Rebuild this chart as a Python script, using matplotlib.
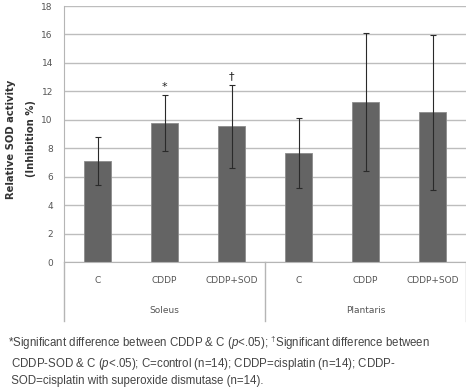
import numpy as np
import matplotlib
matplotlib.use("Agg")
import matplotlib.pyplot as plt

categories = ["C", "CDDP", "CDDP+SOD", "C", "CDDP", "CDDP+SOD"]
groups = ["Soleus", "Plantaris"]
means = [7.12, 9.78, 9.56, 7.68, 11.25, 10.52]
errors = [1.68, 1.95, 2.92, 2.45, 4.82, 5.45]
markers = ["", "*", "\u2020", "", "", ""]
yticks = np.arange(0, 19, 2)

footnote = (
    "*Significant difference between CDDP & C ($p$<.05); $^{\\dagger}$Significant difference between\n"
    " CDDP-SOD & C ($p$<.05); C=control (n=14); CDDP=cisplatin (n=14); CDDP-\n"
    " SOD=cisplatin with superoxide dismutase (n=14)."
)

plt.rcParams["mathtext.fontset"] = "custom"
plt.rcParams["mathtext.rm"] = "Liberation Sans"
plt.rcParams["mathtext.it"] = "Liberation Sans:italic"

fig = plt.figure(figsize=(4.66, 3.88), dpi=100)
ax = fig.add_axes([64 / 466, 126 / 388, 402 / 466, 256 / 388])

x = np.arange(len(categories))
ax.bar(x, means, width=0.4, color="#646464", edgecolor="#8c8c8c", linewidth=0.6, zorder=2)
ax.errorbar(x, means, yerr=errors, fmt="none", ecolor="#2a2a2a", elinewidth=0.8,
            capsize=2, capthick=0.8, zorder=3)

for xi, m, e, mk in zip(x, means, errors, markers):
    if mk:
        ax.text(xi, m + e + 0.2, mk, ha="center", va="bottom", fontsize=8, color="#222222")

ax.set_xlim(-0.5, len(categories) - 0.5)
ax.set_ylim(0, 18)
ax.set_yticks(yticks)
ax.set_yticklabels([str(t) for t in yticks], fontsize=6.5, color="#555555")
ax.tick_params(axis="y", length=0, pad=8)
ax.set_xticks([])
ax.grid(axis="y", color="#bdbdbd", linewidth=1, zorder=0)
ax.set_axisbelow(True)
for s in ["top", "right"]:
    ax.spines[s].set_visible(False)
ax.spines["left"].set_color("#b5b5b5")
ax.spines["bottom"].set_color("#b5b5b5")

# y label, two lines drawn separately to get the wide spacing
ylab_y = 1 - 139 / 388
fig.text(11 / 466, ylab_y, "Relative SOD activity", rotation=90, ha="center", va="center",
         fontsize=7.2, fontweight="bold", color="#333333")
fig.text(31 / 466, ylab_y, "(Inhibition %)", rotation=90, ha="center", va="center",
         fontsize=7.2, fontweight="bold", color="#333333")

trans = ax.get_xaxis_transform()
for xi, c in zip(x, categories):
    ax.text(xi, -0.074, c, transform=trans, ha="center", va="center", fontsize=6.5, color="#555555")
for gi, g in enumerate(groups):
    ax.text(gi * 3 + 1, -0.19, g, transform=trans, ha="center", va="center", fontsize=6.5, color="#555555")
for sx in [-0.5, 2.5, 5.5]:
    ax.plot([sx, sx], [0, -0.23], transform=trans, color="#b5b5b5", linewidth=1, clip_on=False)

fig.text(8 / 466, 1 - 334 / 388, footnote, ha="left", va="top", fontsize=8.3,
         family="Liberation Sans", color="#444444", linespacing=1.35)

fig.savefig("out.png", dpi=100)
